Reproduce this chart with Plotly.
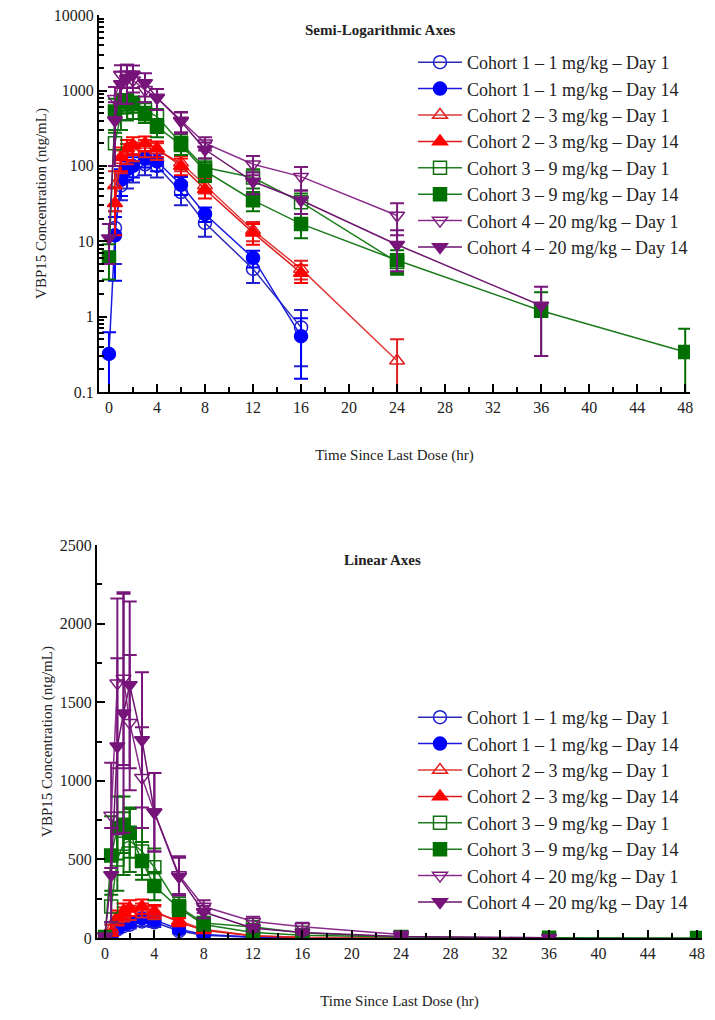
import plotly.graph_objects as go

# sampling times (hr)
hours = [0, 0.5, 1, 1.5, 2, 3, 4, 6, 8, 12, 16, 24, 36, 48]

# mean concentrations (ntg/mL), None = not reported
c1_d1 = [None, 15, 55, 75, 85, 105, 100, 45, 17.5, 4.3, 0.72, None, None, None]
c1_d14 = [0.32, 12, 65, 90, 100, 125, 115, 56, 23, 6, 0.55, None, None, None]
c2_d1 = [None, 55, 120, 150, 160, 175, 160, 110, 55, 14, 4.3, 0.26, None, None]
c2_d14 = [None, 32, 130, 170, 190, 200, 170, 100, 49, 13, 3.8, None, None, None]
c3_d1 = [None, 200, 500, 600, 620, 550, 450, 200, 95, 70, 33, 5.3, None, None]
c3_d14 = [6.1, 525, 700, 720, 670, 490, 330, 190, 86, 35, 17, 5.6, 1.2, 0.34]
c4_d1 = [None, 780, 1620, 1650, 1370, 1020, 800, 400, 200, 105, 72, 22, None, None]
c4_d14 = [11, 400, 1220, 1430, 1610, 1260, 800, 390, 165, 62, 35, 9, 1.4, None]

# standard deviations
c1_d1_sd = [None, 10, 20, 25, 25, 30, 30, 15, 6, 1.5, 0.5, None, None, None]
c1_d14_sd = [0.3, 9, 25, 25, 30, 30, 30, 15, 5, 1.5, 0.4, None, None, None]
c2_d1_sd = [None, 30, 40, 45, 45, 45, 40, 25, 12, 4, 1.2, 0.24, None, None]
c2_d14_sd = [None, 20, 45, 50, 50, 45, 40, 25, 12, 4, 1.0, None, None, None]
c3_d1_sd = [None, 100, 200, 200, 200, 150, 120, 60, 30, 20, 10, 1.5, None, None]
c3_d14_sd = [3, 250, 200, 180, 160, 120, 90, 50, 25, 10, 6, 2, 0.9, 0.35]
c4_d1_sd = [None, 335, 540, 550, 430, 320, 250, 120, 40, 30, 25, 10, None, None]
c4_d14_sd = [6, 300, 560, 760, 530, 430, 250, 120, 40, 20, 12, 5, 1.1, None]

names = ["Cohort 1 \u2013 1 mg/kg \u2013 Day 1", "Cohort 1 \u2013 1 mg/kg \u2013 Day 14",
         "Cohort 2 \u2013 3 mg/kg \u2013 Day 1", "Cohort 2 \u2013 3 mg/kg \u2013 Day 14",
         "Cohort 3 \u2013 9 mg/kg \u2013 Day 1", "Cohort 3 \u2013 9 mg/kg \u2013 Day 14",
         "Cohort 4 \u2013 20 mg/kg \u2013 Day 1", "Cohort 4 \u2013 20 mg/kg \u2013 Day 14"]
means = [c1_d1, c1_d14, c2_d1, c2_d14, c3_d1, c3_d14, c4_d1, c4_d14]
sds = [c1_d1_sd, c1_d14_sd, c2_d1_sd, c2_d14_sd, c3_d1_sd, c3_d14_sd, c4_d1_sd, c4_d14_sd]

log_ticks = [0.1, 1, 10, 100, 1000, 10000]
log_labels = ["0.1", "1", "10", "100", "1000", "10000"]

line_cols = ["#2b2bb8", "#1a1ae0", "#e03a3a", "#e01a1a", "#1f7f1f", "#1a7a1a", "#8a2a8a", "#6e1470"]
mark_cols = ["#2020d0", "#0000ff", "#e02020", "#ff0000", "#107010", "#007000", "#7a1a7a", "#76147a"]
symbols = ["circle-open", "circle", "triangle-up-open", "triangle-up",
           "square-open", "square", "triangle-down-open", "triangle-down"]

FONT = "Liberation Serif"
# page is 715x1020, body has an 8px margin
OFF = 8
FW, FH = 715 - 2 * OFF, 1020 - 2 * OFF


def px_x(p):
    return (p - OFF) / FW


def px_y(p):
    return 1 - (p - OFF) / FH


fig = go.Figure()
for i in range(8):
    for ax, leg in [("", "legend"), ("2", "legend2")]:
        fig.add_trace(go.Scatter(
            x=hours, y=means[i], name=names[i], mode="lines+markers",
            xaxis="x" + ax, yaxis="y" + ax, legend=leg, legendgroup=leg + str(i),
            line=dict(color=line_cols[i], width=1.5),
            marker=dict(symbol=symbols[i], size=13, color=mark_cols[i],
                        line=dict(color=mark_cols[i], width=1.5)),
            error_y=dict(type="data", array=sds[i], color=mark_cols[i], thickness=2, width=7),
            connectgaps=False,
        ))

minor_ticks = dict(ticks="inside", ticklen=5, tickwidth=1.5, tickcolor="black")
axis_common = dict(showline=True, linecolor="black", linewidth=2, ticks="inside",
                   tickcolor="black", tickwidth=2, ticklen=8, showgrid=False, zeroline=False,
                   automargin=False, ticklabeloverflow="allow",
                   tickfont=dict(family=FONT, size=16, color="#222"),
                   title_font=dict(family=FONT, size=15, color="#222"))

fig.update_layout(
    width=FW, height=FH, margin=dict(l=0, r=0, t=0, b=0, autoexpand=False),
    paper_bgcolor="white", plot_bgcolor="white",
    font=dict(family=FONT, size=15, color="#222"),
    xaxis=dict(axis_common, domain=[px_x(99), px_x(690)], range=[-0.83, 48.4], anchor="y",
               dtick=4, tick0=0, minor=dict(minor_ticks, dtick=2),
               title=dict(text="Time Since Last Dose (hr)", standoff=34)),
    yaxis=dict(axis_common, domain=[px_y(392), px_y(15)], type="log", range=[-1, 4.002], anchor="x",
               tickmode="array", tickvals=log_ticks, ticktext=log_labels,
               minor=dict(minor_ticks, dtick="D1"),
               title=dict(text="VBP15 Concentration (ntg/mL)", standoff=4)),
    xaxis2=dict(axis_common, domain=[px_x(97), px_x(702)], range=[-0.65, 48.4], anchor="y2",
                dtick=4, tick0=0, minor=dict(minor_ticks, dtick=2),
                title=dict(text="Time Since Last Dose (hr)", standoff=34)),
    yaxis2=dict(axis_common, domain=[px_y(938), px_y(545)], range=[0, 2500], anchor="x2",
                dtick=500, minor=dict(minor_ticks, dtick=250),
                title=dict(text="VBP15 Concentration (ntg/mL)", standoff=4)),
    legend=dict(x=px_x(413), y=px_y(44), xanchor="left", yanchor="top", bgcolor="rgba(0,0,0,0)",
                font=dict(family=FONT, size=18, color="#222"), tracegroupgap=0, itemwidth=44),
    legend2=dict(x=px_x(413), y=px_y(699), xanchor="left", yanchor="top", bgcolor="rgba(0,0,0,0)",
                 font=dict(family=FONT, size=18, color="#222"), tracegroupgap=0, itemwidth=44),
    showlegend=True,
)

fig.add_annotation(text="<b>Semi-Logarithmic Axes</b>", x=px_x(380), y=px_y(30), xref="paper", yref="paper",
                   xanchor="center", yanchor="middle", showarrow=False,
                   font=dict(family=FONT, size=15, color="#222"))
fig.add_annotation(text="<b>Linear Axes</b>", x=px_x(382), y=px_y(560), xref="paper", yref="paper",
                   xanchor="center", yanchor="middle", showarrow=False,
                   font=dict(family=FONT, size=15, color="#222"))

fig.write_html("out.html")
